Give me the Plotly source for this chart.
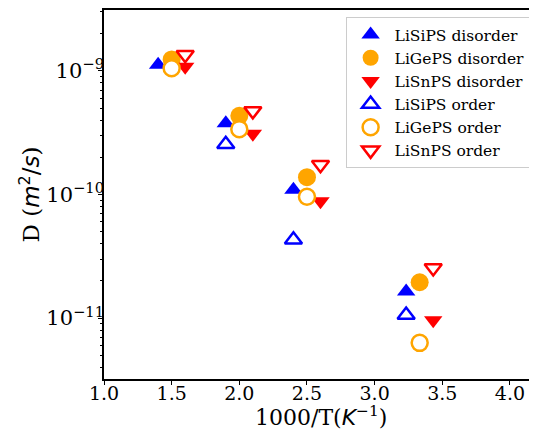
import plotly.graph_objects as go

# ---- data ----
x_si = [1.4, 1.9, 2.4, 3.233]
x_ge = [1.5, 2.0, 2.5, 3.333]
x_sn = [1.6, 2.1, 2.6, 3.433]

si_disorder = [1.12e-9, 3.77e-10, 1.09e-10, 1.64e-11]
ge_disorder = [1.24e-9, 4.33e-10, 1.38e-10, 1.95e-11]
sn_disorder = [1.08e-9, 3.10e-10, 8.8e-11, 9.6e-12]
si_order = [None, 2.55e-10, 4.3e-11, 1.06e-11]
ge_order = [1.05e-9, 3.38e-10, 9.6e-11, 6.3e-12]
sn_order = [1.35e-9, 4.75e-10, 1.74e-10, 2.54e-11]

x_ticks = [1.0, 1.5, 2.0, 2.5, 3.0, 3.5, 4.0]
y_ticks = [1e-11, 1e-10, 1e-9]
y_tick_text = ["10<sup>\u221211</sup>", "10<sup>\u221210</sup>", "10<sup>\u22129</sup>"]

x_title = "1000/T(<span style=\"font-family:DejaVu Sans\"><i>K</i></span><sup>\u22121</sup>)"
y_title = "D (<span style=\"font-family:DejaVu Sans\"><i>m</i><sup>2</sup>/<i>s</i></span>)"

BLUE, ORANGE, RED = "#0000ff", "#ffa500", "#ff0000"
SERIF = "DejaVu Serif"

fig = go.Figure()

def filled(x, y, name, symbol, color, size):
    fig.add_trace(go.Scatter(x=x, y=y, mode="markers", name=name,
                             marker=dict(symbol=symbol, color=color, size=size,
                                         line=dict(width=0))))

def hollow(x, y, name, symbol, color, size):
    fig.add_trace(go.Scatter(x=x, y=y, mode="markers", name=name,
                             marker=dict(symbol=symbol, color="white", size=size,
                                         line=dict(width=2.5, color=color))))

filled(x_si, si_disorder, "LiSiPS disorder", "triangle-up", BLUE, 16)
filled(x_ge, ge_disorder, "LiGePS disorder", "circle", ORANGE, 18)
filled(x_sn, sn_disorder, "LiSnPS disorder", "triangle-down", RED, 16)
hollow(x_si, si_order, "LiSiPS order", "triangle-up", BLUE, 15)
hollow(x_ge, ge_order, "LiGePS order", "circle", ORANGE, 16)
hollow(x_sn, sn_order, "LiSnPS order", "triangle-down", RED, 15)

minor_vals = [m * 10.0 ** e for e in (-12, -11, -10, -9) for m in range(2, 10)]

# the page body adds an 8px offset, so the figure is 8px smaller than the window
fig.update_layout(
    width=529, height=427,
    margin=dict(l=96, r=0, t=2, b=56, autoexpand=False),
    plot_bgcolor="white", paper_bgcolor="white",
    font=dict(family=SERIF, color="black"),
    showlegend=True,
    legend=dict(x=0.558, y=0.981, xanchor="left", yanchor="top",
                bgcolor="rgba(255,255,255,0.8)", bordercolor="#cccccc", borderwidth=1,
                font=dict(family=SERIF, size=15.5), itemwidth=38, tracegroupgap=0),
    xaxis=dict(range=[1.0, 4.2], tickvals=x_ticks, ticktext=[f"{v:.1f}" for v in x_ticks],
               automargin=False, ticklabelstandoff=-8,
               showgrid=False, zeroline=False, showline=True, linecolor="black",
               linewidth=1.6, mirror=True, ticks="outside", ticklen=4, tickwidth=1,
               tickcolor="black", tickfont=dict(family=SERIF, size=19)),
    yaxis=dict(type="log", range=[-11.493, -8.507], tickvals=y_ticks, ticktext=y_tick_text,
               automargin=False, ticklabelstandoff=-10,
               showgrid=False, zeroline=False, showline=True, linecolor="black",
               linewidth=1.6, mirror=False, ticks="outside", ticklen=4, tickwidth=1,
               tickcolor="black", tickfont=dict(family=SERIF, size=21),
               minor=dict(tickvals=minor_vals, ticks="outside", ticklen=2, tickwidth=0.8,
                          tickcolor="black", showgrid=False),
               title=dict(text=y_title, font=dict(family=SERIF, size=23), standoff=0)),
    annotations=[dict(text=x_title, xref="paper", yref="paper", x=0.5, y=-0.101,
                      xanchor="center", yanchor="middle", showarrow=False,
                      font=dict(family=SERIF, size=22, color="black"))],
)

fig.write_html("out.html")
